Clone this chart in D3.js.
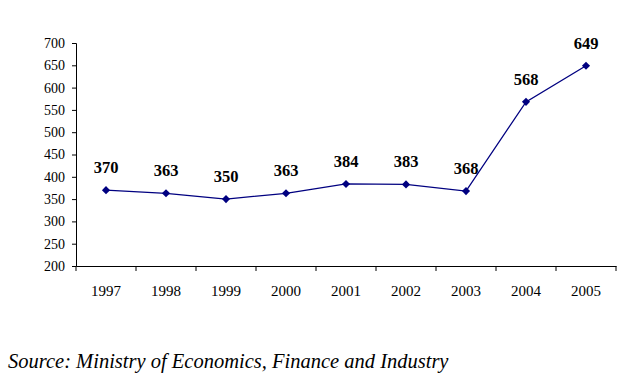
<!DOCTYPE html>
<html lang="en">
<head>
<meta charset="utf-8">
<title>Line chart 1997-2005</title>
<script src="https://d3js.org/d3.v7.min.js"></script>
</head>
<body style="margin:0; background:#fff">
<svg width="630" height="391"></svg>
<script>
// data
const years = ["1997", "1998", "1999", "2000", "2001", "2002", "2003", "2004", "2005"];
const values = [370, 363, 350, 363, 384, 383, 368, 568, 649];
const yTicks = [200, 250, 300, 350, 400, 450, 500, 550, 600, 650, 700];

const serif = "'Liberation Serif', 'Times New Roman', serif";
const svg = d3.select("svg");
const mLeft = 76, mRight = 616, mTop = 43, mBottom = 266;

const x = d3.scaleBand().domain(years).range([mLeft, mRight]);
const y = d3.scaleLinear().domain([200, 700]).range([mBottom, mTop]);

// y axis
svg.append("g")
   .attr("transform", `translate(${mLeft},0)`)
   .call(d3.axisLeft(y).tickValues(yTicks).tickSize(4).tickPadding(7))
   .call(g => g.select(".domain").attr("stroke", "#000"))
   .call(g => g.selectAll(".tick line").attr("stroke", "#000"))
   .call(g => g.selectAll(".tick text")
      .style("font-family", serif).style("font-size", "14px").attr("fill", "#000"));

// x axis, ticks on band edges
const xAxis = svg.append("g")
   .attr("transform", `translate(0,${mBottom})`)
   .call(d3.axisBottom(x).tickSize(0).tickPadding(19));
xAxis.select(".domain").attr("stroke", "#000");
xAxis.selectAll(".tick text")
   .style("font-family", serif).style("font-size", "15px").attr("fill", "#000");
xAxis.selectAll(".edge")
   .data(years.concat(["end"]))
   .enter()
   .append("line")
   .attr("x1", (d, i) => i < years.length ? x(d) : x.range()[1])
   .attr("x2", (d, i) => i < years.length ? x(d) : x.range()[1])
   .attr("y1", 0)
   .attr("y2", 5)
   .attr("stroke", "#000");

const cx = d => x(d) + x.bandwidth() / 2;

// line
const line = d3.line()
   .x((d, i) => cx(years[i]))
   .y(d => y(d));

svg.append("path")
   .datum(values)
   .attr("d", line)
   .attr("fill", "none")
   .attr("stroke", "#000080")
   .attr("stroke-width", 1.3);

// markers
svg.selectAll(".pt")
   .data(values)
   .enter()
   .append("path")
   .attr("d", d3.symbol().type(d3.symbolDiamond2).size(42))
   .attr("transform", (d, i) => `translate(${cx(years[i])},${y(d)})`)
   .attr("fill", "#000080");

// value labels
svg.selectAll(".vlabel")
   .data(values)
   .enter()
   .append("text")
   .attr("x", (d, i) => cx(years[i]))
   .attr("y", d => y(d) - 17)
   .attr("text-anchor", "middle")
   .style("font-family", serif)
   .style("font-size", "16.5px")
   .style("font-weight", "bold")
   .text(d => d);

svg.append("text")
   .attr("x", 8)
   .attr("y", 368)
   .style("font-family", serif)
   .style("font-size", "20.5px")
   .style("font-style", "italic")
   .text("Source: Ministry of Economics, Finance and Industry");
</script>
</body>
</html>
